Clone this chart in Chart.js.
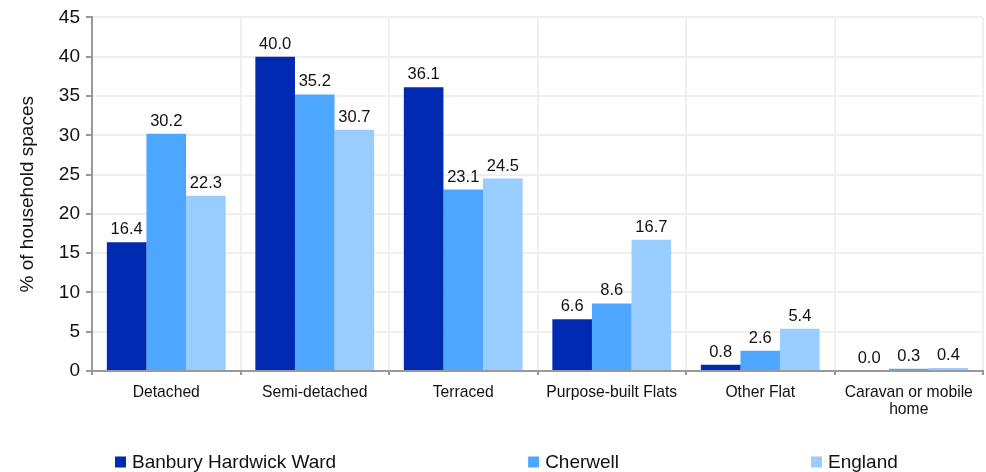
<!DOCTYPE html>
<html>
<head>
<meta charset="utf-8">
<script src="https://cdn.jsdelivr.net/npm/chart.js@4/dist/chart.umd.min.js"></script>
<style>
html,body{margin:0;padding:0;background:#fff;}
#wrap{width:986px;height:472px;}
</style>
</head>
<body>
<div id="wrap"><canvas id="c" width="986" height="472"></canvas></div>
<script>
const categories = ['Detached', 'Semi-detached', 'Terraced', 'Purpose-built Flats', 'Other Flat', ['Caravan or mobile', 'home']];
const seriesNames = ['Banbury Hardwick Ward', 'Cherwell', 'England'];
const banbury = [16.4, 40.0, 36.1, 6.6, 0.8, 0.0];
const cherwell = [30.2, 35.2, 23.1, 8.6, 2.6, 0.3];
const england = [22.3, 30.7, 24.5, 16.7, 5.4, 0.4];
const yTicks = [0, 5, 10, 15, 20, 25, 30, 35, 40, 45];
const colors = ['#002AB2', '#4DA6FF', '#99CCFF'];

const FONT = '"Liberation Sans", Arial, sans-serif';

const valueLabels = {
  id: 'valueLabels',
  afterDatasetsDraw(chart) {
    const ctx = chart.ctx;
    ctx.save();
    ctx.font = '16.5px ' + FONT;
    ctx.fillStyle = '#111';
    ctx.textAlign = 'center';
    ctx.textBaseline = 'alphabetic';
    chart.data.datasets.forEach((ds, i) => {
      const meta = chart.getDatasetMeta(i);
      meta.data.forEach((bar, j) => {
        ctx.fillText(ds.data[j].toFixed(1), bar.x, bar.y - 8);
      });
    });
    ctx.restore();
  }
};

// Bottom legend with wide, even spacing between items
const spacedLegend = {
  id: 'spacedLegend',
  afterDraw(chart) {
    const ctx = chart.ctx;
    const box = 11, textGap = 6, itemGap = 192, fontSize = 19;
    const y = chart.height - 10;
    ctx.save();
    ctx.font = fontSize + 'px ' + FONT;
    ctx.textBaseline = 'middle';
    ctx.textAlign = 'left';
    let x = chart.chartArea.left + 23;
    chart.data.datasets.forEach((ds) => {
      ctx.fillStyle = ds.backgroundColor;
      ctx.fillRect(x, y - box / 2, box, box);
      ctx.fillStyle = '#111';
      const tx = x + box + textGap;
      ctx.fillText(ds.label, tx, y + 1);
      x = tx + ctx.measureText(ds.label).width + itemGap;
    });
    ctx.restore();
  }
};

new Chart(document.getElementById('c'), {
  type: 'bar',
  data: {
    labels: categories,
    datasets: [
      { label: seriesNames[0], data: banbury, backgroundColor: colors[0] },
      { label: seriesNames[1], data: cherwell, backgroundColor: colors[1] },
      { label: seriesNames[2], data: england, backgroundColor: colors[2] }
    ]
  },
  options: {
    responsive: false,
    animation: false,
    devicePixelRatio: 1,
    layout: { padding: { left: 8, right: 3, top: 14, bottom: 45 } },
    datasets: { bar: { categoryPercentage: 0.8, barPercentage: 1.0 } },
    plugins: {
      legend: { display: false },
      tooltip: { enabled: false }
    },
    scales: {
      x: {
        grid: { color: '#efefef', lineWidth: 2, tickColor: '#999', tickLength: 4, offset: true },
        border: { color: '#999', width: 2 },
        ticks: { font: { family: FONT, size: 15.7, lineHeight: 1.08 }, color: '#111', padding: 9, maxRotation: 0 }
      },
      y: {
        min: 0, max: 45,
        afterBuildTicks(scale) { scale.ticks = yTicks.map(v => ({ value: v })); },
        afterFit(scale) { scale.width = 84; },
        grid: { color: '#efefef', lineWidth: 2, tickColor: '#999', tickLength: 6 },
        border: { color: '#999', width: 2 },
        ticks: { font: { family: FONT, size: 19 }, color: '#111', padding: 6 },
        title: { display: true, text: '% of household spaces', font: { family: FONT, size: 19 }, color: '#111', padding: 8 }
      }
    }
  },
  plugins: [valueLabels, spacedLegend]
});
</script>
</body>
</html>
